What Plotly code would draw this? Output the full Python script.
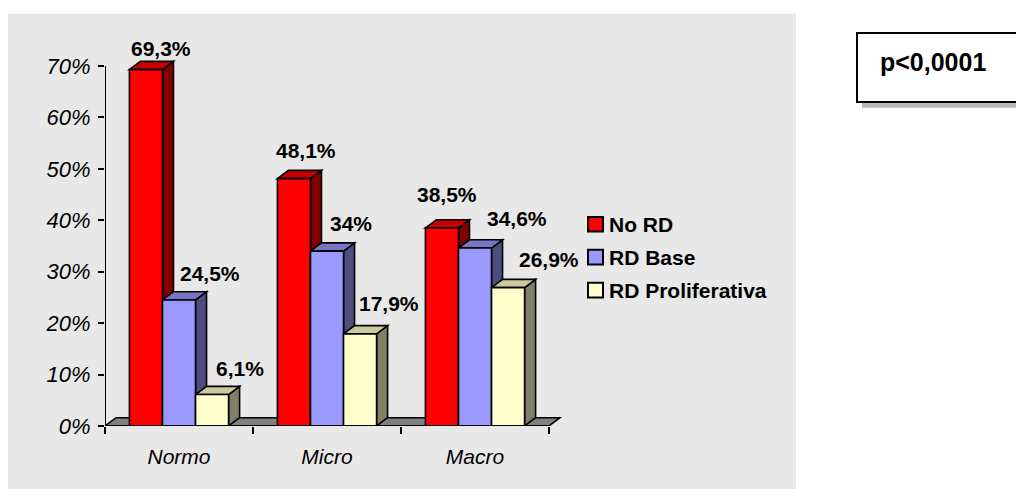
import plotly.graph_objects as go

# ---- data ----
categories = ["Normo", "Micro", "Macro"]
series_names = ["No RD", "RD Base", "RD Proliferativa"]
no_rd = [69.3, 48.1, 38.5]
rd_base = [24.5, 34.0, 34.6]
rd_proliferativa = [6.1, 17.9, 26.9]
y_ticks = [0, 10, 20, 30, 40, 50, 60, 70]
y_tick_labels = [f"{t}%" for t in y_ticks]
p_value_text = "p<0,0001"

series_values = [no_rd, rd_base, rd_proliferativa]

# ---- styling ----
front_colors = ["#FF0000", "#9999FF", "#FFFFCC"]
top_colors = ["#C40000", "#7676C6", "#CACA9E"]
side_colors = ["#800000", "#4D4D80", "#808066"]
floor_color = "#808080"
panel_color = "#E8E8E8"
FONT = "Liberation Sans, Arial, sans-serif"

# label offsets (px) from the front-top centre of each bar, per series / category
label_shift = [
    [(15, 21), (12, 28), (5, 33)],
    [(31, 26), (24, 28), (42, 30)],
    [(28, 26), (29, 30), (41, 28)],
]

W, H = 1016, 502
X0, CAT_PX = 105, 148        # left end of category axis, px per category
Y0, UNIT_PX = 437, 5.3       # zero line, px per percentage point
X_RANGE = [-0.5, 2.62]
Y_RANGE = [0, 72]
BARGAP = 0.33
bar_w = (1 - BARGAP) / 3
depth_dx = 11 / CAT_PX
depth_dy = 8.5 / UNIT_PX


def fx(p):
    return p / W


def fy(p):
    return 1 - p / H


def fmt(v):
    return f"{v:g}".replace(".", ",") + "%"


fig = go.Figure()
for name, vals, col in zip(series_names, series_values, front_colors):
    fig.add_trace(go.Bar(
        x=categories, y=vals, name=name,
        marker=dict(color=col, line=dict(color="black", width=1.6)),
        showlegend=False, hoverinfo="skip",
    ))

shapes = []
# background panel and p-value box
shapes.append(dict(type="rect", xref="paper", yref="paper", layer="below",
                   x0=fx(8), x1=fx(796), y0=0, y1=fy(12),
                   fillcolor=panel_color, line=dict(width=0)))
shapes.append(dict(type="rect", xref="paper", yref="paper", layer="below",
                   x0=fx(862), x1=fx(W + 20), y0=fy(109), y1=fy(37),
                   fillcolor="#B8B8B8", line=dict(width=0)))
shapes.append(dict(type="rect", xref="paper", yref="paper", layer="below",
                   x0=fx(857), x1=fx(W + 12), y0=fy(103), y1=fy(32),
                   fillcolor="white", line=dict(color="black", width=2)))

# floor of the 3-D plot
n = len(categories)
shapes.append(dict(
    type="path", xref="x", yref="y", layer="below",
    path=(f"M {-0.5},0 L {-0.5 + depth_dx},{depth_dy} "
          f"L {n - 0.5 + depth_dx},{depth_dy} L {n - 0.5},0 Z"),
    fillcolor=floor_color, line=dict(color="black", width=1.5)))

# side and top faces, left to right so that the next front face covers them
annotations = []
for c in range(n):
    for s, vals in enumerate(series_values):
        v = vals[c]
        xc = c + (s - 1) * bar_w
        xl, xr = xc - bar_w / 2, xc + bar_w / 2
        shapes.append(dict(
            type="path", xref="x", yref="y", layer="below",
            path=(f"M {xr},0 L {xr},{v} L {xr + depth_dx},{v + depth_dy} "
                  f"L {xr + depth_dx},{depth_dy} Z"),
            fillcolor=side_colors[s], line=dict(color="black", width=1.6)))
        shapes.append(dict(
            type="path", xref="x", yref="y", layer="below",
            path=(f"M {xl},{v} L {xl + depth_dx},{v + depth_dy} "
                  f"L {xr + depth_dx},{v + depth_dy} L {xr},{v} Z"),
            fillcolor=top_colors[s], line=dict(color="black", width=1.6)))
        sx, sy = label_shift[s][c]
        annotations.append(dict(
            x=xc, y=v, xref="x", yref="y", text=f"<b>{fmt(v)}</b>",
            showarrow=False, xanchor="center", yanchor="middle",
            xshift=sx, yshift=sy,
            font=dict(family=FONT, size=21, color="black")))

# axis lines
shapes.append(dict(type="line", xref="x", yref="y", layer="above",
                   x0=-0.5, x1=n - 0.5, y0=0, y1=0,
                   line=dict(color="black", width=2)))
shapes.append(dict(type="line", xref="x", yref="y", layer="above",
                   x0=-0.5, x1=-0.5, y0=0, y1=y_ticks[-1],
                   line=dict(color="black", width=2)))

# legend
legend_rows = [229, 263, 297]
for name, col, yc in zip(series_names, front_colors, legend_rows):
    shapes.append(dict(type="rect", xref="paper", yref="paper", layer="above",
                       x0=fx(588), x1=fx(603), y0=fy(yc + 7.5), y1=fy(yc - 7.5),
                       fillcolor=col, line=dict(color="black", width=2)))
    annotations.append(dict(
        x=fx(607), y=fy(yc), xref="paper", yref="paper", text=f"<b>{name}</b>",
        showarrow=False, xanchor="left", yanchor="middle",
        font=dict(family=FONT, size=21, color="black")))

annotations.append(dict(
    x=fx(878), y=fy(62), xref="paper", yref="paper", text=f"<b>{p_value_text}</b>",
    showarrow=False, xanchor="left", yanchor="middle",
    font=dict(family=FONT, size=25, color="black")))

fig.update_layout(
    width=W, height=H,
    margin=dict(l=0, r=0, t=0, b=0),
    paper_bgcolor="white",
    plot_bgcolor="rgba(0,0,0,0)",
    barmode="group", bargap=BARGAP, bargroupgap=0,
    shapes=shapes, annotations=annotations,
    xaxis=dict(
        domain=[fx(X0), fx(X0 + (X_RANGE[1] - X_RANGE[0]) * CAT_PX)],
        range=X_RANGE, type="category",
        tickson="boundaries", ticks="outside", ticklen=7, tickwidth=2,
        tickcolor="black", showgrid=False, zeroline=False, showline=False,
        ticklabelstandoff=16,
        tickfont=dict(family=FONT, size=21, color="black", style="italic"),
        fixedrange=True,
    ),
    yaxis=dict(
        domain=[fy(Y0), fy(Y0 - (Y_RANGE[1] - Y_RANGE[0]) * UNIT_PX)],
        range=Y_RANGE, tickmode="array", tickvals=y_ticks, ticktext=y_tick_labels,
        ticks="outside", ticklen=6, tickwidth=2, tickcolor="black",
        showgrid=False, zeroline=False, showline=False,
        ticklabelstandoff=3,
        tickfont=dict(family=FONT, size=22, color="black", style="italic"),
        fixedrange=True,
    ),
)

fig.write_html("out.html")
